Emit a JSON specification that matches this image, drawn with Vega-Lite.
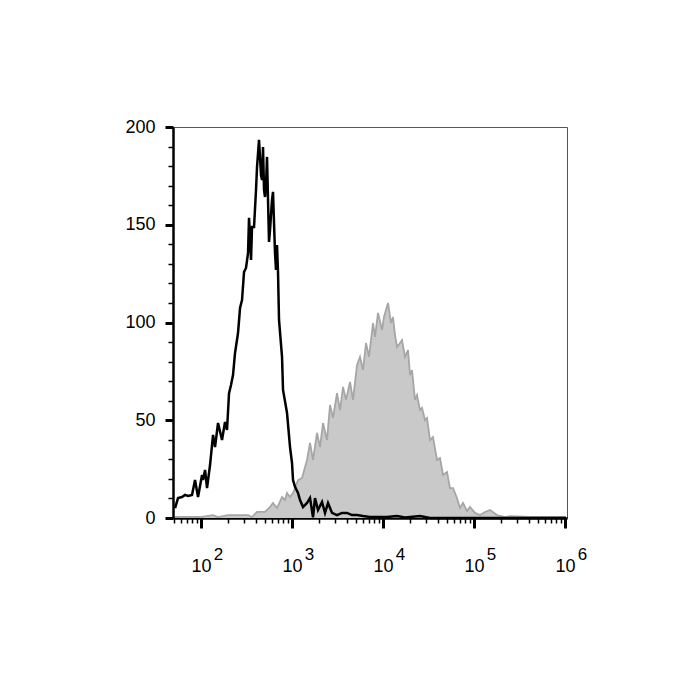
{
  "$schema": "https://vega.github.io/schema/vega-lite/v6.json",
  "autosize": "none",
  "width": 394,
  "height": 391,
  "padding": {"left": 173, "top": 127, "right": 133, "bottom": 182},
  "background": "white",
  "config": {
    "view": {"stroke": "#555555", "strokeWidth": 1},
    "font": "Liberation Sans"
  },
  "datasets": {
    "stained": [
      {"x": 51.8, "count": 0.5}, {"x": 97.5, "count": 0.5}, {"x": 135.5, "count": 1.5}, {"x": 153.8, "count": 0.5},
      {"x": 198.0, "count": 1.5}, {"x": 236.4, "count": 1.5}, {"x": 328.5, "count": 1.5}, {"x": 363.4, "count": 0.5},
      {"x": 412.4, "count": 3.1}, {"x": 504.9, "count": 3.1}, {"x": 572.9, "count": 5.6}, {"x": 618.1, "count": 7.7},
      {"x": 684.0, "count": 5.1}, {"x": 776.6, "count": 10.7}, {"x": 837.7, "count": 9.2}, {"x": 881.2, "count": 12.8},
      {"x": 950.7, "count": 10.7}, {"x": 1025.6, "count": 12.8}, {"x": 1163.8, "count": 19.4}, {"x": 1288.0, "count": 20.5},
      {"x": 1461.8, "count": 29.7}, {"x": 1577.0, "count": 38.4}, {"x": 1701.3, "count": 29.7}, {"x": 1882.5, "count": 43.5},
      {"x": 2030.9, "count": 36.3}, {"x": 2190.9, "count": 48.6}, {"x": 2424.5, "count": 39.9}, {"x": 2615.9, "count": 57.8},
      {"x": 2821.6, "count": 51.2}, {"x": 3122.3, "count": 63.9}, {"x": 3368.9, "count": 55.2}, {"x": 3634.0, "count": 67.0},
      {"x": 3920.7, "count": 60.4}, {"x": 4338.1, "count": 69.6}, {"x": 4680.0, "count": 60.4}, {"x": 5178.4, "count": 78.3},
      {"x": 5587.1, "count": 82.4}, {"x": 6027.1, "count": 75.7}, {"x": 6502.8, "count": 89.5}, {"x": 7015.3, "count": 82.4},
      {"x": 7765.9, "count": 99.7}, {"x": 8169, "count": 92.6}, {"x": 8812.3, "count": 104.9}, {"x": 9750, "count": 96.2},
      {"x": 10256, "count": 102.8}, {"x": 11347, "count": 110.0}, {"x": 12241, "count": 99.7}, {"x": 12880, "count": 102.8},
      {"x": 13548, "count": 93.6}, {"x": 14251, "count": 87.5}, {"x": 15375, "count": 89.5}, {"x": 16176, "count": 91.0},
      {"x": 17451, "count": 82.4}, {"x": 18825, "count": 85.9}, {"x": 19802, "count": 73.1}, {"x": 20830, "count": 75.7},
      {"x": 22470, "count": 60.4}, {"x": 23636, "count": 62.9}, {"x": 25501, "count": 55.2}, {"x": 26827, "count": 56.3},
      {"x": 28937, "count": 50.1}, {"x": 30440, "count": 51.2}, {"x": 32845, "count": 39.9}, {"x": 35437, "count": 41.4},
      {"x": 39207, "count": 29.7}, {"x": 42302, "count": 30.7}, {"x": 45631, "count": 22.0}, {"x": 50489, "count": 23.5},
      {"x": 54491, "count": 15.3}, {"x": 58790, "count": 15.3}, {"x": 65028, "count": 10.2}, {"x": 70153, "count": 5.1},
      {"x": 75700, "count": 7.7}, {"x": 83768, "count": 3.6}, {"x": 90353, "count": 5.6}, {"x": 102560, "count": 2.6},
      {"x": 116380, "count": 1.5}, {"x": 132100, "count": 3.1}, {"x": 149900, "count": 4.1}, {"x": 178900, "count": 1.5},
      {"x": 219100, "count": 0.5}, {"x": 248700, "count": 1.0}, {"x": 412400, "count": 0.5}, {"x": 1025600, "count": 0.5}
    ],
    "control": [
      {"x": 51.8, "count": 5.1}, {"x": 55.9, "count": 10.2}, {"x": 61.8, "count": 10.7}, {"x": 66.7, "count": 11.8},
      {"x": 72.0, "count": 11.3}, {"x": 79.6, "count": 11.8}, {"x": 85.9, "count": 19.4}, {"x": 92.7, "count": 10.7},
      {"x": 102.6, "count": 22.0}, {"x": 105.2, "count": 19.4}, {"x": 110.7, "count": 24.6}, {"x": 116.4, "count": 15.3},
      {"x": 125.6, "count": 27.1}, {"x": 135.5, "count": 42.5}, {"x": 142.5, "count": 36.3}, {"x": 153.8, "count": 48.6},
      {"x": 170.1, "count": 39.9}, {"x": 183.5, "count": 49.1}, {"x": 193.1, "count": 45.0}, {"x": 203.1, "count": 63.9},
      {"x": 213.6, "count": 68.0}, {"x": 224.7, "count": 73.1}, {"x": 236.4, "count": 84.4}, {"x": 255.0, "count": 94.6},
      {"x": 268.3, "count": 107.4}, {"x": 282.2, "count": 111.5}, {"x": 296.8, "count": 125.8}, {"x": 312.2, "count": 127.9},
      {"x": 328.5, "count": 135.5}, {"x": 336.9, "count": 153.5}, {"x": 354.4, "count": 132.0}, {"x": 363.4, "count": 148.8},
      {"x": 382.3, "count": 148.8}, {"x": 402.1, "count": 167.8}, {"x": 412.4, "count": 179.5}, {"x": 433.8, "count": 193.4},
      {"x": 456.3, "count": 175.4}, {"x": 468.0, "count": 172.9}, {"x": 480.0, "count": 189.8}, {"x": 492.3, "count": 167.8},
      {"x": 504.9, "count": 164.2}, {"x": 517.8, "count": 170.3}, {"x": 531.1, "count": 184.7}, {"x": 558.7, "count": 141.2},
      {"x": 572.9, "count": 147.3}, {"x": 602.7, "count": 162.7}, {"x": 618.1, "count": 166.8}, {"x": 650.3, "count": 135.5},
      {"x": 666.9, "count": 126.9}, {"x": 684.0, "count": 139.6}, {"x": 701.5, "count": 125.8}, {"x": 719.7, "count": 101.3},
      {"x": 776.6, "count": 82.4}, {"x": 796.5, "count": 65.5}, {"x": 881.2, "count": 53.7}, {"x": 950.7, "count": 36.3},
      {"x": 1000, "count": 28.1}, {"x": 1025.6, "count": 19.4}, {"x": 1078.9, "count": 15.9}, {"x": 1163.8, "count": 12.8},
      {"x": 1224.1, "count": 9.2}, {"x": 1321.2, "count": 5.6}, {"x": 1461.8, "count": 7.7}, {"x": 1577.0, "count": 10.2},
      {"x": 1701.3, "count": 0.3}, {"x": 1789.1, "count": 10.2}, {"x": 1930.7, "count": 4.1}, {"x": 2136.3, "count": 8.2},
      {"x": 2304.6, "count": 2.6}, {"x": 2486.7, "count": 7.7}, {"x": 2751.7, "count": 2.6}, {"x": 3122.3, "count": 1.5},
      {"x": 3543.7, "count": 2.6}, {"x": 4021.0, "count": 2.6}, {"x": 4563.1, "count": 1.5}, {"x": 5178.4, "count": 1.5},
      {"x": 6027.1, "count": 1.0}, {"x": 7196.9, "count": 0.5}, {"x": 8812.3, "count": 0.5}, {"x": 11066, "count": 0.5},
      {"x": 14251, "count": 1.0}, {"x": 17451, "count": 0.3}, {"x": 25501, "count": 1.0}, {"x": 32845, "count": 0.0},
      {"x": 70153, "count": 0.0}, {"x": 1025600, "count": 0.0}
    ]
  },
  "encoding": {
    "y": {
      "field": "count", "type": "quantitative",
      "scale": {"domain": [0, 200], "nice": false},
      "axis": {
        "title": null, "grid": false,
        "values": [0,10,20,30,40,50,60,70,80,90,100,110,120,130,140,150,160,170,180,190,200],
        "labelExpr": "datum.value % 50 == 0 ? datum.value : ''",
        "domainColor": "black", "domainWidth": 2.5,
        "tickColor": "black",
        "tickSize": {"condition": {"test": "datum.value % 50 == 0", "value": 8}, "value": 5},
        "tickWidth": {"condition": {"test": "datum.value % 50 == 0", "value": 3}, "value": 1.5},
        "labelFontSize": 18, "labelColor": "black", "labelPadding": 10,
        "labelFlush": false, "labelOverlap": false
      }
    }
  },
  "layer": [
    {
      "data": {"name": "stained"},
      "mark": {"type": "area", "color": "#c9c9c9", "opacity": 1, "interpolate": "linear", "line": {"color": "#a6a6a6", "strokeWidth": 1.8}},
      "encoding": {
        "x": {
          "field": "x", "type": "quantitative",
          "scale": {"type": "log", "domain": [49.2, 1052000], "nice": false},
          "axis": {
            "title": null, "grid": false, "orient": "bottom",
            "values": [50,60,70,80,90,100,200,300,400,500,600,700,800,900,1000,2000,3000,4000,5000,6000,7000,8000,9000,10000,20000,30000,40000,50000,60000,70000,80000,90000,100000,200000,300000,400000,500000,600000,700000,800000,900000,1000000],
            "labelExpr": "datum.value==100||datum.value==1000||datum.value==10000||datum.value==100000||datum.value==1000000?'10':''",
            "domainColor": "black", "domainWidth": 2.5,
            "tickColor": "black",
            "tickSize": {"condition": {"test": "datum.value==100||datum.value==1000||datum.value==10000||datum.value==100000||datum.value==1000000", "value": 10}, "value": 5},
            "tickWidth": {"condition": {"test": "datum.value==100||datum.value==1000||datum.value==10000||datum.value==100000||datum.value==1000000", "value": 3}, "value": 1.5},
            "labelFontSize": 18, "labelColor": "black", "labelPadding": 29,
            "labelFlush": false, "labelOverlap": false, "labelAlign": "center"
          }
        }
      }
    },
    {
      "data": {"name": "control"},
      "mark": {"type": "line", "color": "black", "strokeWidth": 2.5, "interpolate": "linear"},
      "encoding": {
        "x": {"field": "x", "type": "quantitative", "axis": null}
      }
    },
    {
      "data": {"name": "control"},
      "mark": {"type": "line", "opacity": 0},
      "encoding": {
        "x": {
          "field": "x", "type": "quantitative",
          "axis": {
            "title": null, "grid": false, "orient": "bottom", "domain": false,
            "ticks": true, "tickOpacity": 0, "tickSize": 5,
            "values": [100, 1000, 10000, 100000, 1000000],
            "labelExpr": "format(log(datum.value)/log(10), '.0f')",
            "labelFontSize": 17, "labelColor": "black", "labelPadding": 23,
            "labelFlush": false, "labelOverlap": false, "labelAlign": "center", "labelOffset": 17
          }
        }
      }
    }
  ],
  "resolve": {"axis": {"x": "independent"}}
}
